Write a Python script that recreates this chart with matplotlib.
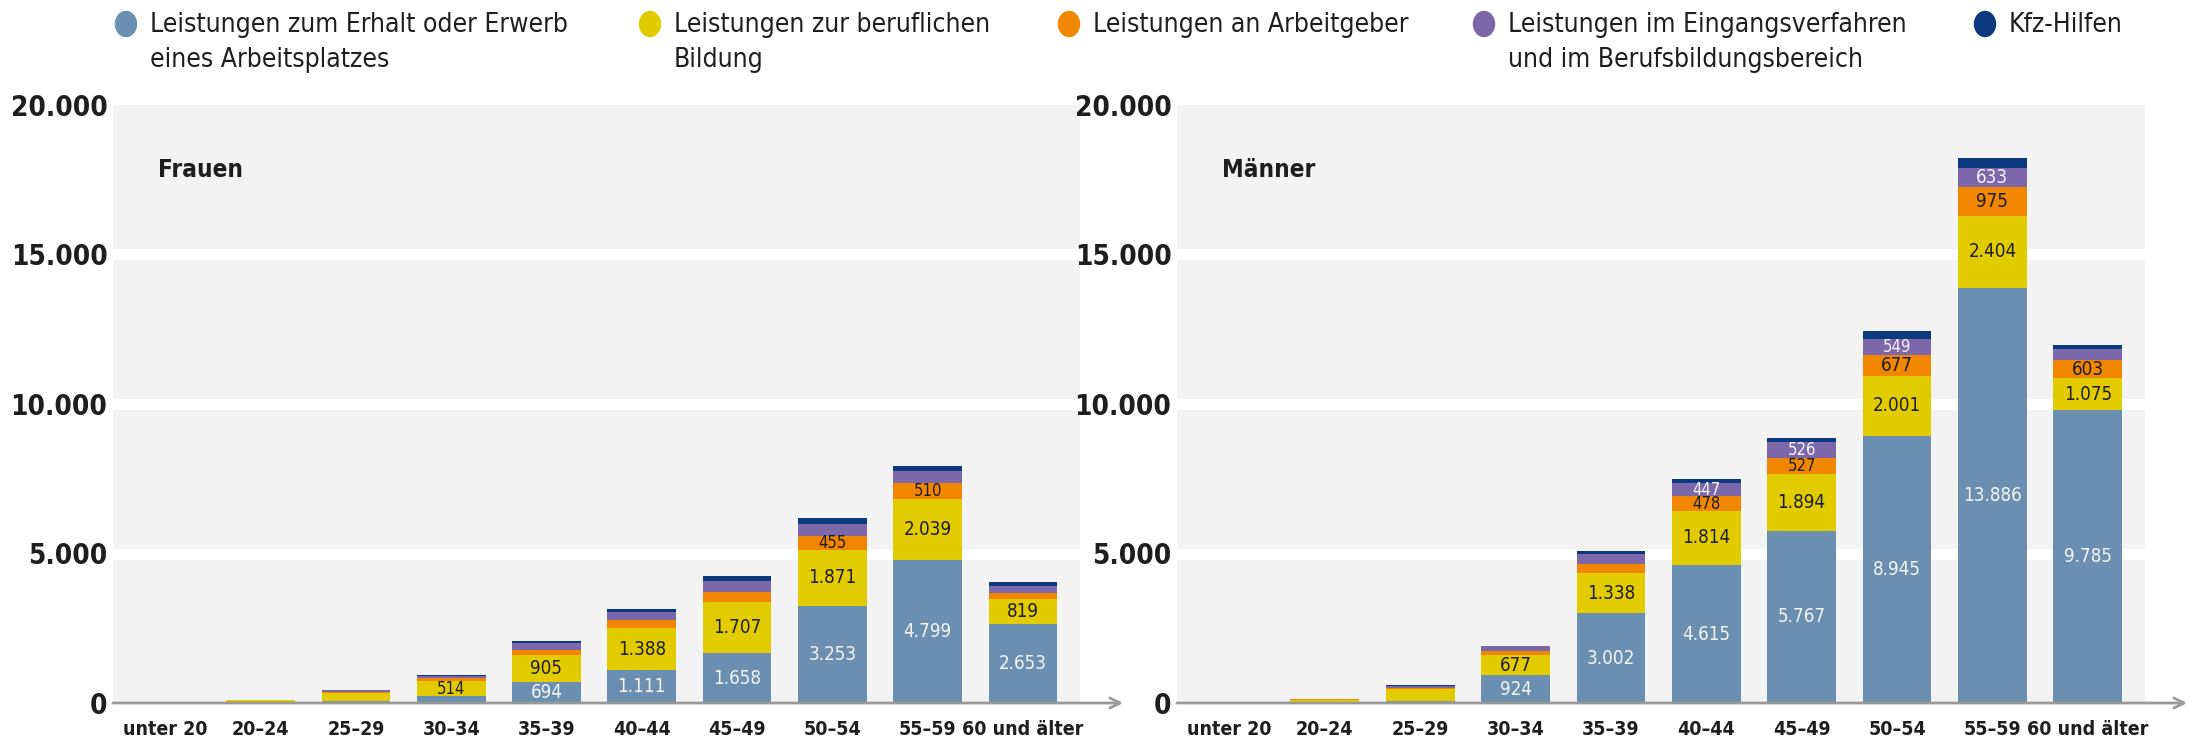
import matplotlib
matplotlib.use("Agg")
import matplotlib.pyplot as plt
import numpy as np
from matplotlib.patches import Ellipse

plt.rcParams['font.family'] = ['DejaVu Sans']
plt.rcParams['font.stretch'] = 'condensed'

ages = ["unter 20", "20–24", "25–29", "30–34", "35–39", "40–44",
        "45–49", "50–54", "55–59", "60 und älter"]

series_names = ["Leistungen zum Erhalt oder Erwerb\neines Arbeitsplatzes",
                "Leistungen zur beruflichen\nBildung",
                "Leistungen an Arbeitgeber",
                "Leistungen im Eingangsverfahren\nund im Berufsbildungsbereich",
                "Kfz-Hilfen"]
colors = ["#6a8fb0", "#e2cc00", "#f18700", "#7b67aa", "#0a3a7d"]
label_colors = ["#f2f5f8", "#1e1e1e", "#1e1e1e", "#f2f5f8", "#ffffff"]

# Frauen
f_erhalt = [8, 15, 60, 220, 694, 1111, 1658, 3253, 4799, 2653]
f_bildung = [5, 80, 264, 514, 905, 1388, 1707, 1871, 2039, 819]
f_arbeitgeber = [2, 8, 33, 99, 165, 264, 363, 455, 510, 209]
f_eingang = [2, 3, 66, 66, 230, 297, 363, 396, 396, 220]
f_kfz = [1, 1, 10, 33, 66, 99, 165, 198, 198, 132]

# Männer
m_erhalt = [30, 50, 70, 924, 3002, 4615, 5767, 8945, 13886, 9785]
m_bildung = [5, 50, 385, 677, 1338, 1814, 1894, 2001, 2404, 1075]
m_arbeitgeber = [2, 30, 40, 132, 297, 478, 527, 677, 975, 603]
m_eingang = [2, 10, 70, 165, 330, 447, 526, 549, 633, 366]
m_kfz = [1, 5, 40, 25, 132, 132, 157, 261, 327, 157]

# which segments carry a value label
f_show = [
    [0, 0, 0, 0, 1, 1, 1, 1, 1, 1],
    [0, 0, 0, 1, 1, 1, 1, 1, 1, 1],
    [0, 0, 0, 0, 0, 0, 0, 1, 1, 0],
    [0, 0, 0, 0, 0, 0, 0, 0, 0, 0],
    [0, 0, 0, 0, 0, 0, 0, 0, 0, 0],
]
m_show = [
    [0, 0, 0, 1, 1, 1, 1, 1, 1, 1],
    [0, 0, 0, 1, 1, 1, 1, 1, 1, 1],
    [0, 0, 0, 0, 0, 1, 1, 1, 1, 1],
    [0, 0, 0, 0, 0, 1, 1, 1, 1, 0],
    [0, 0, 0, 0, 0, 0, 0, 0, 0, 0],
]

yticks = [0, 5000, 10000, 15000, 20000]
W, H = 2200, 748


def fmt(v):
    return f"{v:,}".replace(",", ".")


def draw_panel(ax, data, show, title):
    ax.set_facecolor("#f3f3f3")
    x = np.arange(len(ages))
    for g in [5000, 10000, 15000]:
        ax.axhline(g, color="white", lw=8, zorder=1)
    bottom = np.zeros(len(ages))
    for i, vals in enumerate(data):
        vals = np.array(vals, dtype=float)
        ax.bar(x, vals, 0.72, bottom=bottom, color=colors[i], zorder=2)
        for j, v in enumerate(vals):
            if show[i][j]:
                fs = 13.5 if v > 600 else 12
                ax.text(x[j], bottom[j] + v / 2, fmt(int(v)), ha="center", va="center",
                        fontsize=fs, color=label_colors[i], zorder=3)
        bottom += vals
    ax.set_xlim(-0.55, 9.6)
    ax.set_ylim(0, 20000)
    ax.set_yticks(yticks)
    ax.set_yticklabels([fmt(t) for t in yticks], fontsize=20, fontweight="bold", color="#1e1e1e")
    ax.set_xticks(x)
    ax.set_xticklabels(ages, fontsize=14, fontweight="bold", color="#1e1e1e")
    ax.tick_params(length=0, axis="y", pad=4)
    ax.tick_params(length=0, axis="x", pad=12)
    for s in ax.spines.values():
        s.set_visible(False)
    ax.text(0.0465, 0.891, title, transform=ax.transAxes, fontsize=17.5,
            fontweight="bold", color="#1e1e1e", va="center")


fig = plt.figure(figsize=(22, 7.48), dpi=100)
ax1 = fig.add_axes([113 / W, 45 / H, 967 / W, 598 / H])
ax2 = fig.add_axes([1177 / W, 45 / H, 968 / W, 598 / H])

draw_panel(ax1, [f_erhalt, f_bildung, f_arbeitgeber, f_eingang, f_kfz], f_show, "Frauen")
draw_panel(ax2, [m_erhalt, m_bildung, m_arbeitgeber, m_eingang, m_kfz], m_show, "Männer")

# overlay in pixel coordinates for legend and axis arrows
ov = fig.add_axes([0, 0, 1, 1], zorder=10)
ov.set_xlim(0, W)
ov.set_ylim(H, 0)
ov.axis("off")
ov.patch.set_alpha(0)

for x0, x1 in [(113, 1123), (1177, 2187)]:
    ov.annotate("", xy=(x1, 703), xytext=(x0, 703),
                arrowprops=dict(arrowstyle="->", color="#9a9a9a", lw=2,
                                mutation_scale=18, shrinkA=0, shrinkB=0))

leg_x = [126, 650, 1069, 1484, 1985]
for i, name in enumerate(series_names):
    ov.add_patch(Ellipse((leg_x[i], 24), 21, 25, color=colors[i]))
    for k, line in enumerate(name.split("\n")):
        ov.text(leg_x[i] + 24, 25 + 35 * k, line, fontsize=19, color="#1e1e1e",
                va="center", ha="left")

fig.savefig("out.png", dpi=100)
